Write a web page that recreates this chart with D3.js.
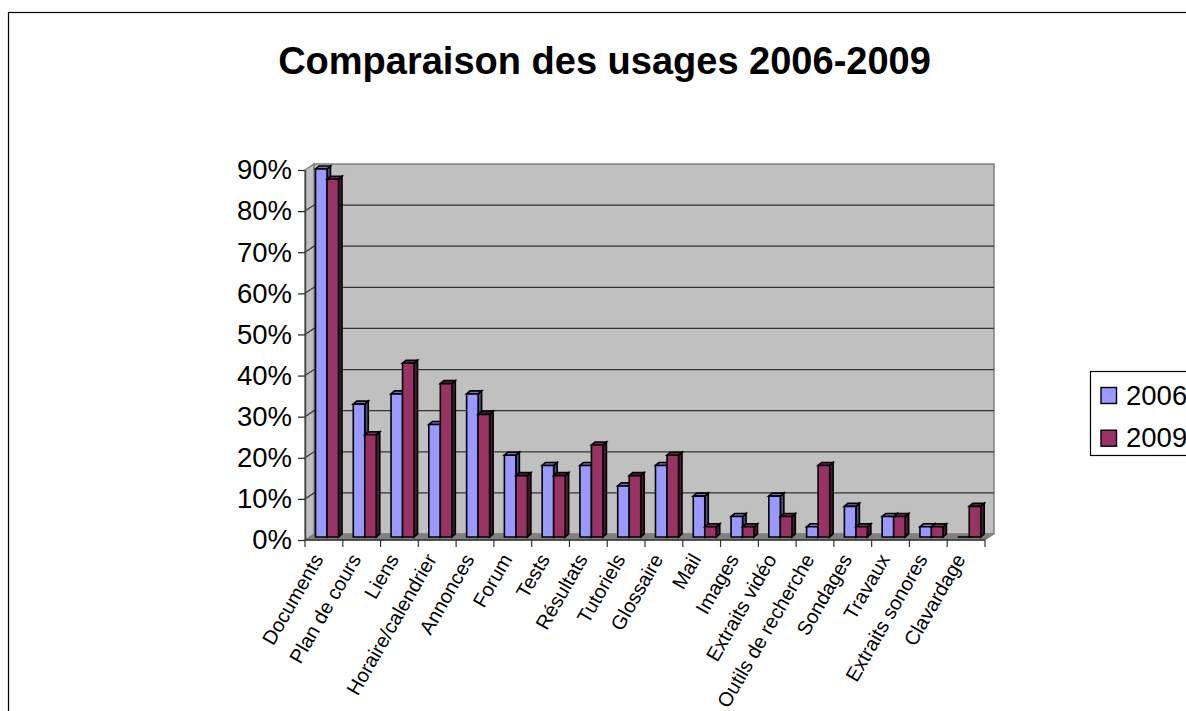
<!DOCTYPE html>
<html>
<head>
<meta charset="utf-8">
<title>Comparaison des usages 2006-2009</title>
<script src="https://cdn.jsdelivr.net/npm/d3@7"></script>
<style>
html, body { margin: 0; padding: 0; background: #fff; overflow: hidden; }
svg { display: block; font-family: "Liberation Sans", Arial, sans-serif; }
</style>
</head>
<body>
<div id="chart"></div>
<script>
// usage per tool, in percent
const categories = ["Documents", "Plan de cours", "Liens", "Horaire/calendrier", "Annonces", "Forum", "Tests",
  "Résultats", "Tutoriels", "Glossaire", "Mail", "Images", "Extraits vidéo", "Outils de recherche",
  "Sondages", "Travaux", "Extraits sonores", "Clavardage"];
const years = ["2006", "2009"];
const values2006 = [90, 32.5, 35, 27.5, 35, 20, 17.5, 17.5, 12.5, 17.5, 10, 5, 10, 2.5, 7.5, 5, 2.5, 0];
const values2009 = [87.5, 25, 42.5, 37.5, 30, 15, 15, 22.5, 15, 20, 2.5, 2.5, 5, 17.5, 2.5, 5, 2.5, 7.5];
const yTicks = [0, 10, 20, 30, 40, 50, 60, 70, 80, 90];

const width = 1186, height = 711;
const colors = { "2006": "#9999ff", "2009": "#993366" };
const sides = { "2006": "#4c4c80", "2009": "#4c1933" };
const tops = { "2006": "#7373bf", "2009": "#732650" };

const svg = d3.select("#chart").append("svg").attr("width", width).attr("height", height);

// outer frame, runs past the right and bottom of the page
svg.append("rect").attr("x", 8.5).attr("y", 12.5).attr("width", 1300).attr("height", 900)
  .attr("fill", "#fff").attr("stroke", "#000").attr("stroke-width", 1.2);

svg.append("text").attr("x", 604.5).attr("y", 74).attr("text-anchor", "middle")
  .attr("font-size", 38).attr("font-weight", "bold").text("Comparaison des usages 2006-2009");

// scales for the front edge of the box, and for the bars which stand a little deeper
const x = d3.scaleBand().domain(categories).range([305, 985]);
const y = d3.scaleLinear().domain([0, 90]).range([540, 170]);
const barY = d3.scaleLinear().domain([0, 90]).range([537, 169]);

// depth of the box and of the bars
const dx = 9, dy = -6;
const barDx = 3.5, barDy = -3;

const poly = (pts, fill, stroke, sw) => svg.append("polygon")
  .attr("points", pts.map(p => p.join(",")).join(" "))
  .attr("fill", fill).attr("stroke", stroke || "#808080").attr("stroke-width", sw || 1);

const x0 = x.range()[0], x1 = x.range()[1], y0 = y(0), yMax = y(90);

// walls and floor
poly([[x0 + dx, yMax + dy], [x1 + dx, yMax + dy], [x1 + dx, y0 + dy], [x0 + dx, y0 + dy]], "#c0c0c0", "#808080", 1.5);
poly([[x0, yMax], [x0 + dx, yMax + dy], [x0 + dx, y0 + dy], [x0, y0]], "#c0c0c0", "#808080", 1.5);
poly([[x0, y0], [x0 + dx, y0 + dy], [x1 + dx, y0 + dy], [x1, y0]], "#808080", "#808080");

// gridlines across both walls
const grid = svg.append("g").attr("stroke", "#333").attr("stroke-width", 1.2).attr("fill", "none");
yTicks.slice(1, -1).forEach(t => {
  grid.append("path").attr("d", `M${x0},${y(t)}L${x0 + dx},${y(t) + dy}L${x1 + dx},${y(t) + dy}`);
});

// axes
const yAxis = d3.axisLeft(y).tickValues(yTicks).tickFormat(d => d + "%").tickSize(7).tickSizeOuter(0).tickPadding(6);
const yG = svg.append("g").attr("transform", `translate(${x0},0)`).call(yAxis);
yG.selectAll("text").attr("font-size", 27.5).attr("fill", "#000").attr("font-family", "Liberation Sans");
yG.selectAll("line").attr("stroke", "#222").attr("stroke-width", 1.2);
yG.select(".domain").attr("stroke", "#444").attr("stroke-width", 1.5);

const tickEdges = d3.range(categories.length + 1).map(i => x0 + i * x.step());
svg.append("line").attr("x1", x0).attr("x2", x1).attr("y1", y0).attr("y2", y0).attr("stroke", "#333").attr("stroke-width", 1.5);
svg.append("g").selectAll("line").data(tickEdges).join("line")
  .attr("x1", d => d).attr("x2", d => d).attr("y1", y0).attr("y2", y0 + 7).attr("stroke", "#333").attr("stroke-width", 1.2);

// category labels, rotated
svg.append("g").selectAll("text").data(categories).join("text")
  .attr("transform", d => `translate(${x(d) + x.step() * 0.5},${y0 + 19}) rotate(-60)`)
  .attr("text-anchor", "end").attr("font-size", 20).attr("fill", "#000").text(d => d);

// bars: front face, top and right side
const barW = 11.5;
function drawBar(v, yr, left) {
  const top = barY(v), base = barY(0);
  const l = left, r = left + barW;
  const g = "#000";
  if (v > 0) {
    poly([[r, top], [r + barDx, top + barDy], [r + barDx, base + barDy], [r, base]], sides[yr], g, 1.6);
    poly([[l, top], [l + barDx, top + barDy], [r + barDx, top + barDy], [r, top]], tops[yr], g, 1.6);
    poly([[l, top], [r, top], [r, base], [l, base]], colors[yr], g, 1.6);
  } else {
    svg.append("line").attr("x1", l).attr("x2", r + barDx).attr("y1", base).attr("y2", base).attr("stroke", g).attr("stroke-width", 1.6);
  }
}
categories.forEach((c, i) => {
  const left = x(c) + 10.5;
  drawBar(values2006[i], "2006", left);
  drawBar(values2009[i], "2009", left + barW);
});

// legend
svg.append("rect").attr("x", 1090.5).attr("y", 371.5).attr("width", 150).attr("height", 84)
  .attr("fill", "#fff").attr("stroke", "#000").attr("stroke-width", 1.2);
years.forEach((yr, i) => {
  const ly = 387 + i * 42.7;
  svg.append("rect").attr("x", 1101).attr("y", ly + 0.5).attr("width", 15.5).attr("height", 16)
    .attr("fill", colors[yr]).attr("stroke", "#000").attr("stroke-width", 1.4);
  svg.append("text").attr("x", 1126).attr("y", ly + 17.5).attr("font-size", 27.5).text(yr);
});
</script>
</body>
</html>
